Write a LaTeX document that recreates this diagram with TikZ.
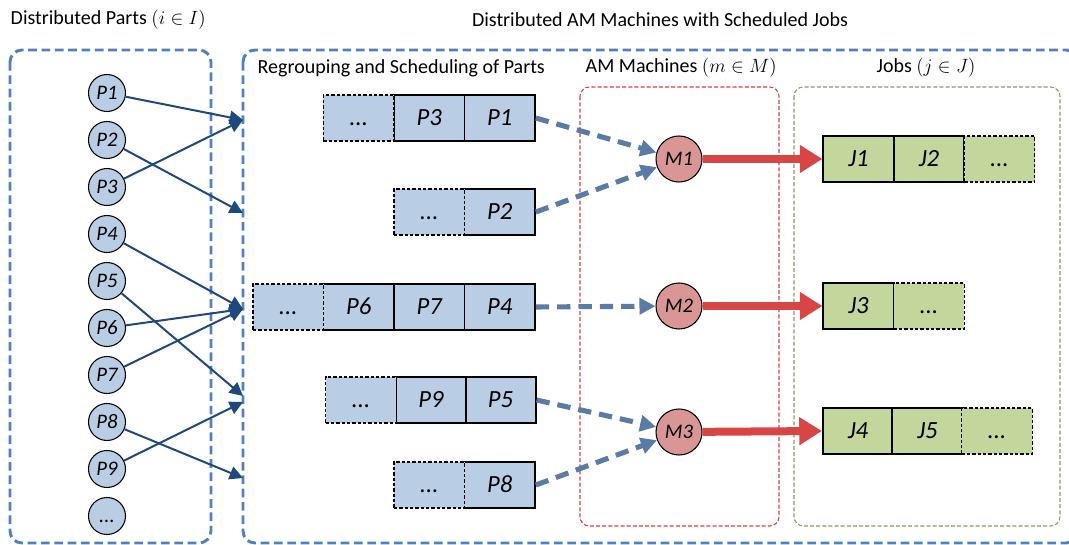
\documentclass[tikz,border=0pt]{standalone}
\usepackage{fontspec}
\setmainfont{Carlito}
\usetikzlibrary{arrows.meta}
\definecolor{boxblue}{HTML}{4F81BD}
\definecolor{partfill}{HTML}{B9CDE5}
\definecolor{arrblue}{HTML}{1F497D}
\definecolor{dashblue}{HTML}{5A7BA6}
\definecolor{mfill}{HTML}{D99694}
\definecolor{redarr}{HTML}{D84545}
\definecolor{jfill}{HTML}{C3D69B}
\definecolor{olivebox}{HTML}{8A9A6A}
\definecolor{redbox}{HTML}{E03C3C}
\begin{document}
\begin{tikzpicture}[x=0.75pt,y=-0.75pt,
  every node/.style={font=\fontsize{15}{18}\selectfont},
  grp/.style={draw=boxblue, line width=2.2pt, dash pattern=on 6.5pt off 3.5pt, rounded corners=9pt},
  subgrp/.style={line width=0.8pt, dash pattern=on 3pt off 1.6pt, rounded corners=7pt},
  part/.style={circle, draw=black, line width=0.8pt, fill=partfill, minimum size=27.75pt, inner sep=0pt, text height=9.5pt, text depth=0pt, font=\fontsize{15.5}{18}\selectfont\itshape},
  link/.style={draw=arrblue, line width=1.5pt, -{Triangle[length=10pt,width=10pt]}},
  cell/.style={draw=black, line width=1.2pt, fill=partfill, minimum width=52.9pt, minimum height=34.5pt, inner sep=0pt, text height=11.5pt, text depth=0pt, font=\fontsize{18.5}{22}\selectfont\itshape},
  dcell/.style={cell, line width=0.9pt, dash pattern=on 2.5pt off 1.5pt},
  jcell/.style={cell, fill=jfill},
  djcell/.style={dcell, fill=jfill},
  mach/.style={circle, draw=black, line width=0.8pt, fill=mfill, minimum size=34.5pt, inner sep=0pt, text height=9.5pt, text depth=0pt, font=\fontsize{15.5}{18}\selectfont\itshape},
  feed/.style={draw=dashblue, line width=3.8pt, dash pattern=on 10pt off 6pt, -{Triangle[length=12pt,width=12pt]}},
  outarr/.style={draw=redarr, line width=6pt, -{Triangle[length=17pt,width=20pt]}}
]
\useasboundingbox (0,0) rectangle (1069,545);

% titles
\node[anchor=west] (tparts) at (6,20) {Distributed Parts $(i \in I)$};
\node (tmain) at (660,20) {Distributed AM Machines with Scheduled Jobs};

% group boxes
\draw[grp] (10,50) rectangle (211,543);
\draw[grp] (243,50) rectangle (1078,543);
\draw[subgrp, draw=redbox] (580,87) rectangle (779,526);
\draw[subgrp, draw=olivebox] (794,87) rectangle (1060,526);

\node[anchor=west] (tregroup) at (253,68) {Regrouping and Scheduling of Parts};
\node[anchor=west] (tam) at (581,68) {AM Machines $(m \in M)$};
\node[anchor=west] (tjobs) at (872,68) {Jobs $(j \in J)$};

% parts
\node[part] (p1) at (107,93) {P1};
\node[part] (p2) at (107,140) {P2};
\node[part] (p3) at (107,187) {P3};
\node[part] (p4) at (107,234) {P4};
\node[part] (p5) at (107,281) {P5};
\node[part] (p6) at (107,328) {P6};
\node[part] (p7) at (107,375) {P7};
\node[part] (p8) at (107,422) {P8};
\node[part] (p9) at (107,469) {P9};
\node[part] (pd) at (107,516) {...};

% targets on the big box
\coordinate (t1) at (243,120);
\coordinate (t2) at (243,213);
\coordinate (t3) at (243,309);
\coordinate (t4a) at (243,396);
\coordinate (t4b) at (243,402);
\coordinate (t5) at (243,478);

\draw[link] (p1) -- (t1);
\draw[link] (p3) -- (t1);
\draw[link] (p2) -- (t2);
\draw[link] (p4) -- (t3);
\draw[link] (p6) -- (t3);
\draw[link] (p7) -- (t3);
\draw[link] (p5) -- (t4a);
\draw[link] (p9) -- (t4b);
\draw[link] (p8) -- (t5);

% scheduled rows
\node[cell] (r1a) at (499.75,118) {P1};
\node[cell] (r1b) at (429.25,118) {P3};
\node[dcell] (r1c) at (358.75,118) {...};

\node[cell] (r2a) at (499.75,212) {P2};
\node[dcell] (r2b) at (429.25,212) {...};

\node[cell] (r3a) at (499.75,307) {P4};
\node[cell] (r3b) at (429.25,307) {P7};
\node[cell] (r3c) at (358.75,307) {P6};
\node[dcell] (r3d) at (288.25,307) {...};

\node[cell] (r4a) at (500.5,400) {P5};
\node[cell] (r4b) at (431,400) {P9};
\node[dcell] (r4c) at (361,400) {...};

\node[cell] (r5a) at (499.75,485) {P8};
\node[dcell] (r5b) at (429.25,485) {...};

% machines
\node[mach] (m1) at (679,159) {M1};
\node[mach] (m2) at (679,306) {M2};
\node[mach] (m3) at (679,432) {M3};

\draw[feed] (r1a.east) -- (m1);
\draw[feed] (r2a.east) -- (m1);
\draw[feed] (r3a.east) -- (m2);
\draw[feed] (r4a.east) -- (m3);
\draw[feed] (r5a.east) -- (m3);

% jobs
\node[jcell] (j1) at (858.5,159) {J1};
\node[jcell] (j2) at (929,159) {J2};
\node[djcell] (j1d) at (999.5,159) {...};

\node[jcell] (j3) at (858.5,306) {J3};
\node[djcell] (j3d) at (929,306) {...};

\node[jcell] (j4) at (858,431) {J4};
\node[jcell] (j5) at (927.5,431) {J5};
\node[djcell] (j4d) at (997,431) {...};

\draw[outarr] (m1) -- (j1.west);
\draw[outarr] (m2) -- (j3.west);
\draw[outarr] (m3) -- (j4.west);
\end{tikzpicture}
\end{document}
